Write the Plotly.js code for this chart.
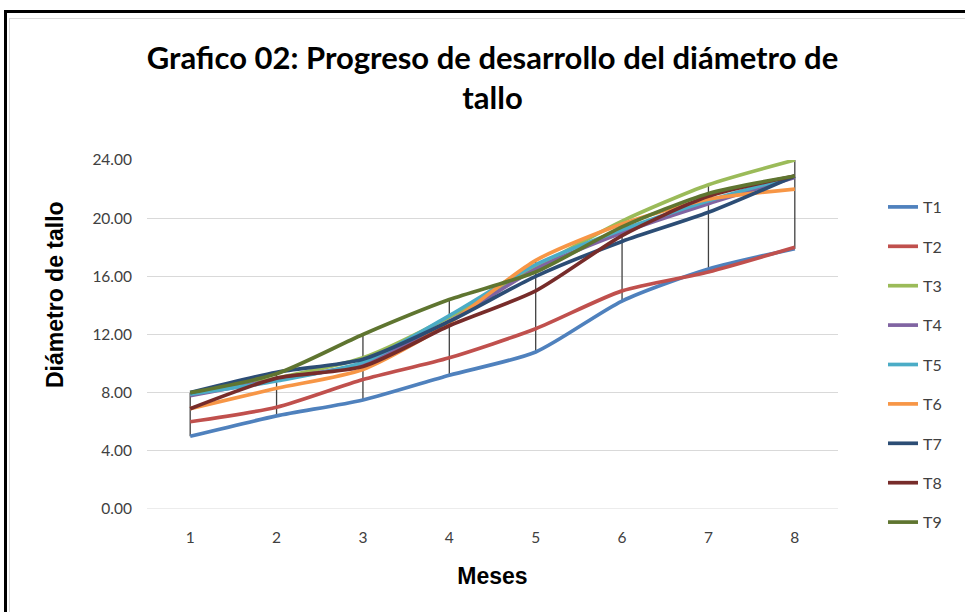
<!DOCTYPE html>
<html><head><meta charset="utf-8">
<script src="https://cdn.plot.ly/plotly-3.0.1.min.js"></script>
<style>
html,body{margin:0;padding:0;background:#fff;}
#chart{width:965px;height:612px;}
#frame{position:absolute;left:4px;top:10px;width:2000px;height:2000px;border-left:3px solid #000;border-top:3px solid #000;pointer-events:none;}
#inner{position:absolute;left:9px;top:18px;width:2000px;height:2000px;border-left:1px solid #d9d9d9;border-top:1px solid #d9d9d9;pointer-events:none;}
</style></head>
<body>
<div id="chart"></div>
<div id="frame"></div><div id="inner"></div>
<script>
const months = [1,2,3,4,5,6,7,8];
const seriesNames = ["T1","T2","T3","T4","T5","T6","T7","T8","T9"];
const T1 = [5.0, 6.4, 7.5, 9.2, 10.8, 14.3, 16.5, 17.9];
const T2 = [6.0, 7.0, 8.9, 10.4, 12.4, 15.0, 16.3, 18.0];
const T3 = [7.9, 9.0, 10.4, 13.2, 16.6, 19.8, 22.3, 24.0];
const T4 = [7.8, 8.9, 10.0, 12.9, 16.5, 19.0, 21.0, 22.8];
const T5 = [7.9, 8.8, 10.1, 13.3, 16.8, 19.2, 21.2, 22.9];
const T6 = [6.9, 8.3, 9.6, 12.8, 17.1, 19.6, 21.3, 22.0];
const T7 = [8.0, 9.4, 10.3, 12.9, 16.0, 18.4, 20.4, 22.9];
const T8 = [6.9, 9.0, 9.8, 12.6, 15.0, 18.8, 21.5, 22.9];
const T9 = [8.0, 9.3, 12.0, 14.4, 16.3, 19.4, 21.7, 22.9];
const yTicks = [0, 4, 8, 12, 16, 20, 24];

const allSeries = [T1,T2,T3,T4,T5,T6,T7,T8,T9];
const colors = ["#4F81BD","#C0504D","#9BBB59","#8064A2","#4BACC6","#F79646","#2C4D75","#772C2A","#5F7530"];

// high-low lines built from the data
const hlX = [], hlY = [];
months.forEach((m, i) => {
  const vals = allSeries.map(s => s[i]);
  hlX.push(m, m, null);
  hlY.push(Math.min(...vals), Math.max(...vals), null);
});

const traces = [{
  x: hlX, y: hlY, mode: 'lines', showlegend: false, hoverinfo: 'skip',
  line: {color: '#404040', width: 1.3}
}];
allSeries.forEach((s, i) => {
  traces.push({
    x: months, y: s, name: seriesNames[i], mode: 'lines', legendgroup: 'g' + i,
    line: {color: colors[i], width: 3.7, shape: 'spline', smoothing: 0.7}
  });
});

const layout = {
  width: 965, height: 612,
  margin: {l: 147, r: 127, t: 160, b: 103},
  paper_bgcolor: '#fff', plot_bgcolor: '#fff',
  font: {family: 'Lato, sans-serif', color: '#404040'},
  title: {
    text: '<b>Grafico 02: Progreso de desarrollo del diámetro de<br>tallo</b>',
    font: {family: 'Lato, sans-serif', size: 31, color: '#000'},
    x: 0.5, xref: 'paper', xanchor: 'center',
    y: 1 - 69/612, yref: 'container', yanchor: 'middle'
  },
  xaxis: {
    type: 'linear', range: [0.5, 8.5], tickvals: months, ticktext: months.map(String),
    showgrid: false, zeroline: false, showline: false, ticks: '',
    tickfont: {size: 15.5, color: '#404040'}, ticklabelstandoff: 17,
    title: {text: '<b>Meses</b>', font: {family: '"Liberation Sans", Arial, sans-serif', size: 23, color: '#000'}, standoff: 23}
  },
  yaxis: {
    range: [0, 24], tickvals: yTicks, tickformat: '.2f',
    showgrid: true, gridcolor: '#d9d9d9', gridwidth: 1, zeroline: false, showline: false, ticks: '',
    tickfont: {size: 15.5, color: '#404040'}, ticklabelstandoff: 14
  },
  annotations: [{
    text: '<b>Diámetro de tallo</b>', textangle: -90, showarrow: false,
    xref: 'paper', yref: 'paper', x: (55 - 147) / 691, y: (509 - 295) / 349,
    xanchor: 'center', yanchor: 'middle',
    font: {family: '"Liberation Sans", Arial, sans-serif', size: 23, color: '#000'}
  }],
  shapes: [{type: 'line', xref: 'paper', yref: 'y', x0: 0, x1: 1, y0: 0, y1: 0, line: {color: '#d9d9d9', width: 1}, layer: 'below'}],
  legend: {
    x: (883 - 147) / 691, xanchor: 'left', y: (509 - 190) / 349, yanchor: 'top',
    font: {size: 16, color: '#404040'}, tracegroupgap: 15.6, itemwidth: 30,
    bgcolor: 'rgba(0,0,0,0)'
  },
  showlegend: true
};

Plotly.newPlot('chart', traces, layout, {displayModeBar: false, staticPlot: true});
</script>
</body></html>
